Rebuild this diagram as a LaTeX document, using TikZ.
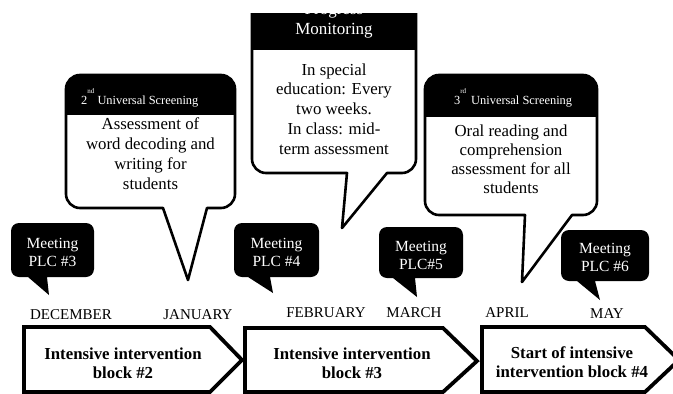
\documentclass[tikz,border=0pt]{standalone}
\usepackage{fontspec}
\setmainfont{Liberation Serif}
% bubble outline: L T R B r x1 x2 tipx tipy
\newcommand\bubblepath[9]{(#6,#4) -- ({#1+#5},#4) arc[start angle=90,end angle=180,radius=#5] -- (#1,{#2+#5}) arc[start angle=180,end angle=270,radius=#5] -- ({#3-#5},#2) arc[start angle=270,end angle=360,radius=#5] -- (#3,{#4-#5}) arc[start angle=0,end angle=90,radius=#5] -- (#7,#4) -- (#8,#9) -- cycle}
\tikzset{
  bubbleline/.style={draw=black, line width=2.6pt, line join=round},
  meetfill/.style={fill=black},
  blockline/.style={draw=black, fill=white, line width=3.8pt, line join=miter},
  bodytext/.style={align=center, font=\fontsize{16.8}{20}\selectfont, inner sep=0pt},
  meettext/.style={align=center, text=white, font=\fontsize{15.5}{18}\selectfont, inner sep=0pt},
  monthtext/.style={anchor=base, font=\fontsize{15}{18}\selectfont, inner sep=0pt},
  blocktext/.style={align=center, font=\fontsize{16.8}{19}\selectfont\bfseries, inner sep=0pt},
  hdrtext/.style={anchor=base west, text=white, font=\fontsize{12.4}{14}\selectfont, inner sep=0pt},
}
\begin{document}
\begin{tikzpicture}[x=1pt,y=-1pt]
\useasboundingbox (0,0) rectangle (673,394);
\clip (0,0) rectangle (673,394);

% ---- arrow blocks ----
\draw[blockline] (24,327) -- (210,327) -- (242,360) -- (210,392) -- (24,392) -- cycle;
\draw[blockline] (245,328) -- (443,328) -- (477,361) -- (443,392) -- (245,392) -- cycle;
\draw[blockline] (482,327) -- (645,327) -- (679,360) -- (645,392) -- (482,392) -- cycle;
\node[blocktext] (b2) at (123,363) {Intensive intervention\\block \#2};
\node[blocktext] (b3) at (352,363) {Intensive intervention\\block \#3};
\node[blocktext] (b4) at (572,362) {Start of intensive\\intervention block \#4};

% ---- months ----
\node[monthtext] (dec) at (71,319) {DECEMBER};
\node[monthtext] (jan) at (198,319) {JANUARY};
\node[monthtext] (feb) at (326,317) {FEBRUARY};
\node[monthtext] (mar) at (414,317) {MARCH};
\node[monthtext] (apr) at (507,317) {APRIL};
\node[monthtext] (may) at (607,318) {MAY};

% ---- meeting bubbles ----
\fill[meetfill] \bubblepath{11}{223}{94}{277}{8}{28}{47}{49}{295};
\fill[meetfill] \bubblepath{234}{223}{319}{277}{8}{248}{270}{273}{293};
\fill[meetfill] \bubblepath{379}{227}{463}{278}{8}{393}{415}{417}{297};
\fill[meetfill] \bubblepath{561}{230}{649}{281}{8}{577}{595}{600}{300};
\node[meettext] (m3) at (52.5,252) {Meeting\\PLC \#3};
\node[meettext] (m4) at (276.5,252) {Meeting\\PLC \#4};
\node[meettext] (m5) at (421,255) {Meeting\\PLC\#5};
\node[meettext] (m6) at (605,257) {Meeting\\PLC \#6};

% ---- bubble A: 2nd universal screening ----
\fill[white] \bubblepath{66}{75}{235}{208}{14}{163}{207}{188}{280};
\begin{scope}
  \clip \bubblepath{66}{75}{235}{208}{14}{163}{207}{188}{280};
  \fill[black] (60,70) rectangle (240,115);
\end{scope}
\draw[bubbleline] \bubblepath{66}{75}{235}{208}{14}{163}{207}{188}{280};
\node[hdrtext] (ha) at (81,104) {2\raisebox{11pt}{\fontsize{7}{7}\selectfont nd} Universal Screening};
\node[bodytext] (ta) at (150.5,154) {Assessment of\\word decoding and\\writing for\\students};

% ---- bubble B: progress monitoring ----
\begin{scope}
  \clip (0,13) rectangle (673,394);
  \fill[white] \bubblepath{252}{-10}{416}{173}{14}{347}{387}{342}{228};
  \begin{scope}
    \clip \bubblepath{252}{-10}{416}{173}{14}{347}{387}{342}{228};
    \fill[black] (245,-20) rectangle (420,50);
  \end{scope}
  \draw[bubbleline] \bubblepath{252}{-10}{416}{173}{14}{347}{387}{342}{228};
  \node[align=center, text=white, font=\fontsize{17}{20}\selectfont, inner sep=0pt] (hb) at (334,21) {Progress\\Monitoring};
\end{scope}
\node[bodytext, font=\fontsize{16.8}{19.75}\selectfont] (tb) at (334,109) {In special\\education: Every\\two weeks.\\In class: mid-\\term assessment};

% ---- bubble C: 3rd universal screening ----
\fill[white] \bubblepath{425}{75}{597}{215}{14}{525}{572}{522}{282};
\begin{scope}
  \clip \bubblepath{425}{75}{597}{215}{14}{525}{572}{522}{282};
  \fill[black] (420,70) rectangle (602,117);
\end{scope}
\draw[bubbleline] \bubblepath{425}{75}{597}{215}{14}{525}{572}{522}{282};
\node[hdrtext] (hc) at (454,104) {3\raisebox{11pt}{\fontsize{7}{7}\selectfont rd}\hspace{5pt}Universal Screening};
\node[bodytext, font=\fontsize{16.8}{19}\selectfont] (tc) at (511,159) {Oral reading and\\comprehension\\assessment for all\\students};
\end{tikzpicture}
\end{document}
